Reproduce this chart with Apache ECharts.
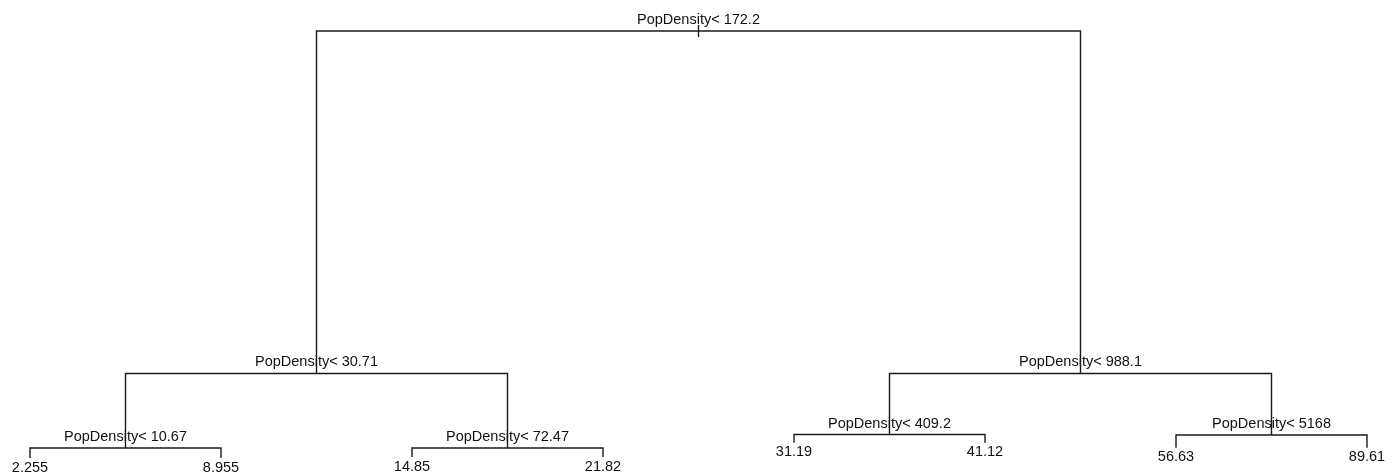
<!DOCTYPE html>
<html><head><meta charset="utf-8">
<script src="https://cdn.jsdelivr.net/npm/echarts@6/dist/echarts.min.js"></script>
<style>html,body{margin:0;padding:0;background:#fff;}#chart{width:1396px;height:472px;}</style>
</head><body><div id="chart"></div>
<script>
// Regression tree (rpart-style), nodes in heap order: 1 root, 2-3, 4-7 splits; 8-15 leaves
const splitLabels = ['PopDensity< 172.2', 'PopDensity< 30.71', 'PopDensity< 988.1',
  'PopDensity< 10.67', 'PopDensity< 72.47', 'PopDensity< 409.2', 'PopDensity< 5168'];
const splitHeights = [100, 19.8, 19.8, 2.34, 2.34, 5.5, 5.4];
const leafValues = ['2.255', '8.955', '14.85', '21.82', '31.19', '41.12', '56.63', '89.61'];
const leafHeights = [0, 0, 0.23, 0.23, 3.58, 3.58, 2.4, 2.4];

const nInternal = splitLabels.length;
function nodeY(n) { return n <= nInternal ? splitHeights[n - 1] : leafHeights[n - 1 - nInternal]; }
function nodeX(n) { return n > nInternal ? n - 1 - nInternal : (nodeX(2 * n) + nodeX(2 * n + 1)) / 2; }

const branchData = [];
for (let n = 1; n <= nInternal; n++) {
  branchData.push([nodeX(n), nodeY(n), nodeX(2 * n), nodeY(2 * n), nodeX(2 * n + 1), nodeY(2 * n + 1), n - 1]);
}
const leafData = leafValues.map((v, i) => [nodeX(i + 1 + nInternal), leafHeights[i], i]);

const FONT = '14.5px "Liberation Sans", Arial, sans-serif';
const LINE = '#1a1a1a';
const TEXT = '#111';

const chart = echarts.init(document.getElementById('chart'), null, { renderer: 'canvas' });
chart.setOption({
  animation: false,
  backgroundColor: '#fff',
  grid: { left: 30, right: 29, top: 31, bottom: 14 },
  xAxis: { type: 'value', min: 0, max: leafValues.length - 1, show: false },
  yAxis: { type: 'value', min: 0, max: 100, show: false },
  series: [
    {
      type: 'custom',
      clip: false,
      data: branchData,
      renderItem: function (params, api) {
        const p = api.coord([api.value(0), api.value(1)]);
        const l = api.coord([api.value(2), api.value(3)]);
        const r = api.coord([api.value(4), api.value(5)]);
        const idx = api.value(6);
        const children = [
          { type: 'polyline', shape: { points: [[l[0], l[1]], [l[0], p[1]], [r[0], p[1]], [r[0], r[1]]] },
            style: { stroke: LINE, lineWidth: 1.4, fill: null } },
          { type: 'text', style: { text: splitLabels[idx], x: p[0], y: p[1] - 11, font: FONT, fill: TEXT,
            align: 'center', verticalAlign: 'middle', textAlign: 'center', textVerticalAlign: 'middle' } }
        ];
        if (idx === 0) {
          children.push({ type: 'line', shape: { x1: p[0], y1: p[1] - 6, x2: p[0], y2: p[1] + 6 },
            style: { stroke: LINE, lineWidth: 1.4 } });
        }
        return { type: 'group', children: children };
      }
    },
    {
      type: 'custom',
      clip: false,
      data: leafData,
      renderItem: function (params, api) {
        const p = api.coord([api.value(0), api.value(1)]);
        return { type: 'text', style: { text: leafValues[api.value(2)], x: p[0], y: p[1] + 9.5, font: FONT, fill: TEXT,
          align: 'center', verticalAlign: 'middle', textAlign: 'center', textVerticalAlign: 'middle' } };
      }
    }
  ]
});
</script>
</body></html>
